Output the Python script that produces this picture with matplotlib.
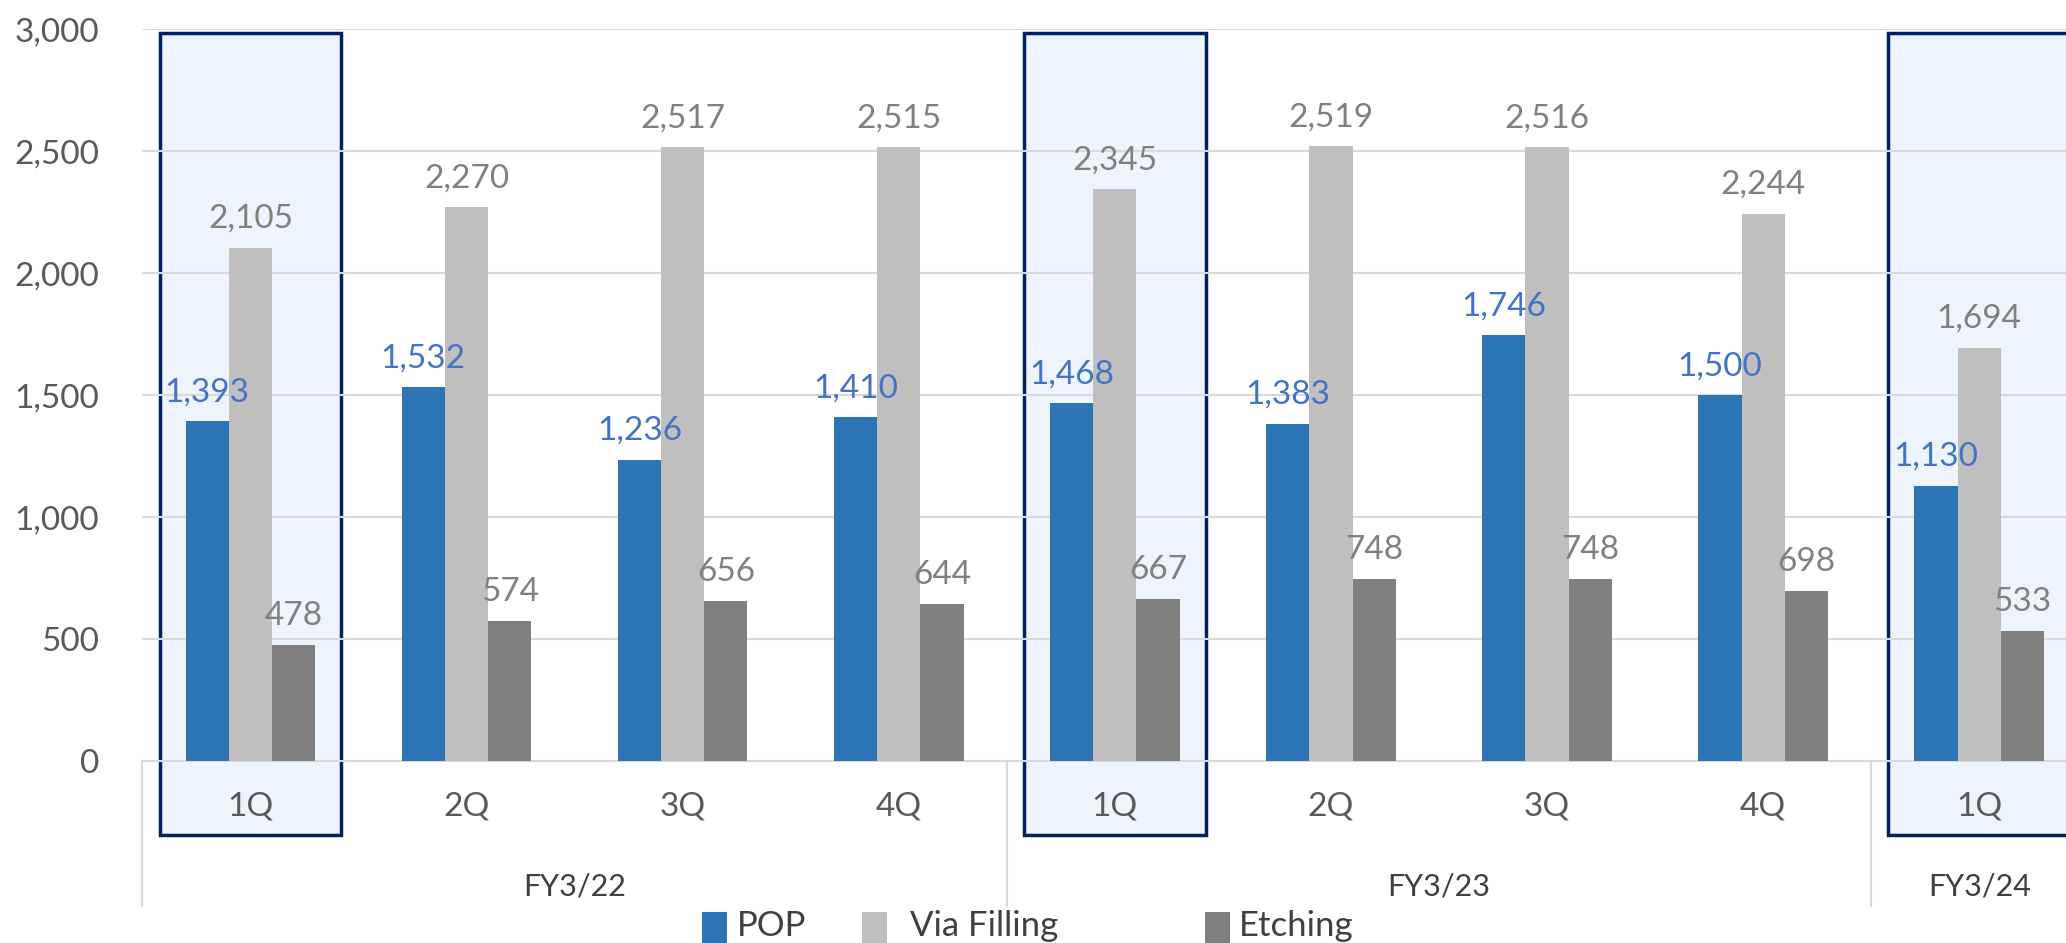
import matplotlib.pyplot as plt
from matplotlib.patches import Rectangle
from matplotlib.transforms import blended_transform_factory
import numpy as np

plt.rcParams['font.family'] = ['Lato', 'DejaVu Sans']

# Quarterly volumes per process line
quarters = ['1Q', '2Q', '3Q', '4Q', '1Q', '2Q', '3Q', '4Q', '1Q']
years = ['FY3/22', 'FY3/23', 'FY3/24']
year_sizes = [4, 4, 1]
pop = [1393, 1532, 1236, 1410, 1468, 1383, 1746, 1500, 1130]
via_filling = [2105, 2270, 2517, 2515, 2345, 2519, 2516, 2244, 1694]
etching = [478, 574, 656, 644, 667, 748, 748, 698, 533]
highlight = [0, 4, 8]

series = [('POP', pop, '#2E75B6', '#4472C4'),
          ('Via Filling', via_filling, '#BFBFBF', '#808080'),
          ('Etching', etching, '#7F7F7F', '#808080')]

fig = plt.figure(figsize=(20.66, 9.43), dpi=100)
ax = fig.add_axes([0.0689, 0.1925, 0.9414, 0.7767])

x = np.arange(len(quarters))
w = 0.2

ax.set_xlim(-0.5, len(quarters) - 0.5)
ax.set_ylim(0, 3000)
ax.set_yticks(np.arange(0, 3001, 500))
ax.set_yticklabels([f'{v:,}' for v in range(0, 3001, 500)])
ax.tick_params(axis='y', length=0, pad=31, labelsize=24, labelcolor='#595959')
ax.set_xticks([])
for s in ['top', 'right', 'left']:
    ax.spines[s].set_visible(False)
ax.spines['bottom'].set_color('#D9D9D9')
ax.spines['bottom'].set_linewidth(1.5)
ax.spines['bottom'].set_zorder(1)

for v in range(500, 3001, 500):
    ax.axhline(v, color='#D9D9D9', lw=1.5, zorder=0.5)

# shaded first-quarter columns
for i in highlight:
    ax.add_patch(Rectangle((i - 0.42, -300), 0.84, 3282, facecolor='#EDF4FB',
                           edgecolor='#002060', lw=2.5, zorder=0.2, clip_on=False))

for k, (name, vals, color, lcolor) in enumerate(series):
    pos = x + (k - 1) * w
    ax.bar(pos, vals, width=w, color=color, zorder=2)
    for px, v in zip(pos, vals):
        ax.annotate(f'{v:,}', (px, v), xytext=(0, 10), textcoords='offset points',
                    ha='center', va='bottom', fontsize=24, color=lcolor, zorder=3)

trans = blended_transform_factory(ax.transData, ax.transAxes)
for i, q in enumerate(quarters):
    ax.text(i, -0.061, q, transform=trans, ha='center', va='center',
            fontsize=24, color='#595959', clip_on=False)

start = 0
for name, n in zip(years, year_sizes):
    ax.plot([start - 0.5, start - 0.5], [0, -0.197], transform=trans,
            color='#D9D9D9', lw=1.5, clip_on=False)
    ax.text(start + (n - 1) / 2, -0.171, name, transform=trans, ha='center',
            va='center', fontsize=22, color='#404040', clip_on=False)
    start += n

# legend entries
legend_x = [(702, 737), (862, 910), (1205, 1239)]
for (name, vals, color, lcolor), (sx, tx) in zip(series, legend_x):
    fig.patches.append(Rectangle((sx / 2066, 0), 25 / 2066, 31 / 943,
                                 transform=fig.transFigure, facecolor=color,
                                 edgecolor='none'))
    fig.text(tx / 2066, 17 / 943, name, ha='left', va='center',
             fontsize=25, color='#404040')

fig.savefig('out.png', dpi=100)
